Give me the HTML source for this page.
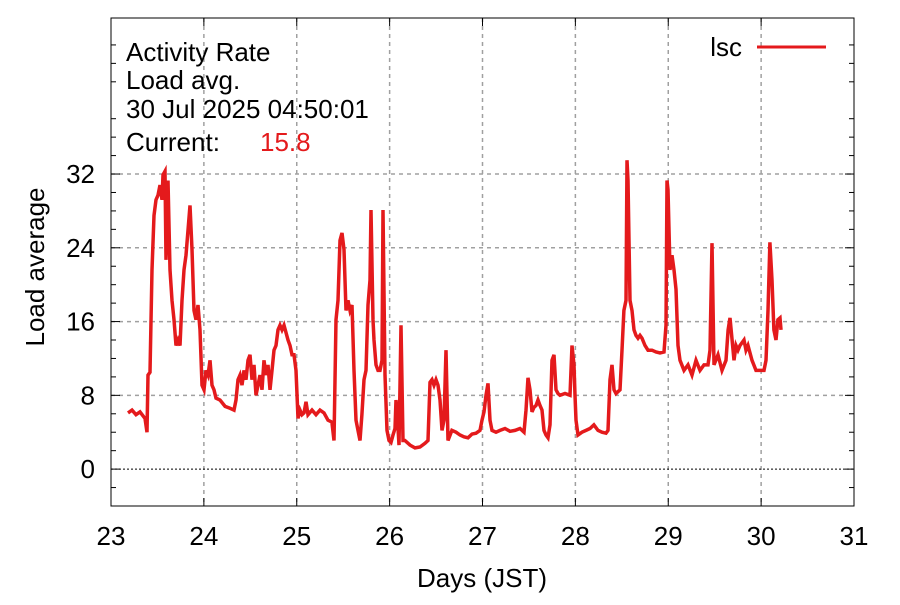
<!DOCTYPE html>
<html><head><meta charset="utf-8"><style>
body{margin:0;background:#fff}
svg text{font-family:"Liberation Sans",sans-serif;font-size:26px;fill:#000}
</style></head><body>
<svg id="chart" width="900" height="600" viewBox="0 0 900 600" xmlns="http://www.w3.org/2000/svg">
<g id="grid"></g>
<g id="axes"></g>
<g id="series"></g>
<text x="126" y="61">Activity Rate</text>
<text x="126" y="89">Load avg.</text>
<text x="126" y="118">30 Jul 2025 04:50:01</text>
<text x="126" y="151">Current:</text>
<text x="260" y="151" style="fill:#e41a1c">15.8</text>
<g>
<text x="742" y="56" text-anchor="end">lsc</text>
<line x1="757" y1="47" x2="826" y2="47" stroke="#e41a1c" stroke-width="3"/>
</g>
<text x="482" y="587" text-anchor="middle">Days (JST)</text>
<text transform="translate(44,267) rotate(-90)" text-anchor="middle">Load average</text>
</svg>
<script>
const xTicks=[23,24,25,26,27,28,29,30,31];
const yTicks=[0,8,16,24,32];
const days=[23.183,23.226,23.269,23.312,23.366,23.388,23.398,23.420,23.441,23.463,23.484,23.506,23.528,23.549,23.560,23.581,23.592,23.614,23.635,23.657,23.678,23.700,23.721,23.743,23.764,23.786,23.808,23.829,23.851,23.872,23.894,23.915,23.937,23.958,23.980,24.001,24.023,24.044,24.066,24.087,24.109,24.131,24.174,24.228,24.281,24.324,24.346,24.367,24.389,24.410,24.432,24.454,24.475,24.497,24.518,24.540,24.561,24.583,24.604,24.626,24.647,24.669,24.690,24.712,24.733,24.755,24.777,24.798,24.820,24.841,24.863,24.884,24.906,24.927,24.949,24.970,24.992,25.013,25.035,25.056,25.078,25.100,25.121,25.164,25.207,25.250,25.293,25.336,25.379,25.401,25.423,25.444,25.466,25.487,25.509,25.530,25.552,25.573,25.595,25.616,25.638,25.659,25.681,25.702,25.724,25.746,25.767,25.789,25.799,25.821,25.832,25.853,25.875,25.896,25.918,25.929,25.950,25.972,25.993,26.015,26.036,26.058,26.069,26.079,26.101,26.122,26.144,26.165,26.219,26.273,26.327,26.381,26.413,26.435,26.456,26.478,26.499,26.521,26.542,26.564,26.585,26.607,26.628,26.671,26.715,26.758,26.801,26.844,26.887,26.930,26.973,26.995,27.016,27.038,27.059,27.081,27.102,27.145,27.188,27.242,27.296,27.350,27.404,27.447,27.468,27.490,27.511,27.533,27.555,27.576,27.598,27.619,27.641,27.662,27.684,27.705,27.727,27.748,27.770,27.791,27.813,27.834,27.888,27.942,27.964,27.985,27.996,28.007,28.028,28.071,28.114,28.157,28.200,28.244,28.287,28.330,28.351,28.373,28.394,28.416,28.437,28.480,28.502,28.523,28.545,28.556,28.567,28.588,28.610,28.631,28.653,28.674,28.696,28.717,28.750,28.782,28.825,28.868,28.911,28.954,28.976,28.987,28.997,29.019,29.040,29.062,29.083,29.105,29.126,29.170,29.213,29.256,29.299,29.342,29.385,29.428,29.450,29.471,29.493,29.536,29.579,29.622,29.644,29.665,29.687,29.708,29.730,29.751,29.773,29.816,29.837,29.859,29.902,29.945,29.988,30.031,30.052,30.074,30.095,30.117,30.138,30.160,30.181,30.203,30.214];
const loads=[6.1,6.4,5.9,6.2,5.5,4.0,10.2,10.5,21.6,27.5,29.2,29.7,30.8,29.2,31.9,32.3,22.7,31.3,21.6,18.3,16.2,13.4,14.0,13.4,18.3,21.6,23.2,25.9,28.6,23.8,17.2,16.2,17.8,15.1,9.1,8.6,10.7,10.2,11.8,9.1,8.6,7.7,7.5,6.8,6.6,6.4,7.5,9.7,10.2,9.1,10.7,9.7,11.8,12.4,9.7,11.3,8.0,9.1,10.2,8.6,11.8,10.2,11.3,8.6,10.7,12.9,13.4,15.1,15.6,15.1,15.6,14.8,14.0,13.4,12.4,12.4,10.7,5.5,6.4,5.9,6.1,7.3,5.9,6.4,5.9,6.4,6.1,5.3,5.1,3.1,16.2,18.3,24.8,25.6,23.8,17.2,18.3,17.2,17.8,10.7,5.3,4.2,3.1,5.9,9.7,10.7,17.8,20.5,28.1,16.2,14.0,11.3,10.7,10.7,11.8,28.1,10.2,4.2,3.1,2.9,3.7,4.4,7.5,6.4,2.6,15.6,3.1,3.1,2.6,2.3,2.4,2.8,3.1,9.4,9.7,9.1,9.7,9.1,7.5,4.2,5.3,12.9,3.1,4.2,4.0,3.7,3.5,3.4,3.8,3.9,4.2,5.3,6.2,8.0,9.3,5.3,4.2,4.0,4.2,4.4,4.1,4.2,4.4,4.0,6.4,9.9,8.6,6.2,6.7,6.9,7.5,6.9,6.4,4.2,3.7,3.4,4.8,11.8,12.4,8.6,8.2,8.0,8.2,8.0,13.4,11.3,8.0,5.3,3.7,4.0,4.2,4.4,4.8,4.2,4.0,3.9,4.2,9.7,11.3,8.6,8.2,8.6,12.9,17.2,18.3,33.5,31.3,18.3,17.2,15.1,14.5,14.2,14.5,14.2,13.4,12.9,12.9,12.7,12.6,12.7,15.6,31.3,30.3,21.6,23.2,21.6,19.5,13.4,11.8,10.7,11.3,10.2,11.8,10.7,11.3,11.3,12.9,24.5,11.3,12.4,10.7,11.8,15.1,16.4,14.0,11.8,13.4,12.9,13.4,14.0,12.9,13.4,11.8,10.7,10.7,10.7,11.8,17.2,24.6,20.5,15.1,14.0,16.2,16.4,15.1];
const L=111,R=854,T=18,B=506,X0=23,X1=31,Y0=-4,Y1=48.92;
const sx=d=>L+(d-X0)/(X1-X0)*(R-L);
const sy=v=>B-(v-Y0)/(Y1-Y0)*(B-T);
const NS='http://www.w3.org/2000/svg';
function mk(p,t,a){const e=document.createElementNS(NS,t);for(const k in a)e.setAttribute(k,a[k]);p.appendChild(e);return e;}
const grid=document.getElementById('grid'),axes=document.getElementById('axes'),ser=document.getElementById('series');
xTicks.forEach(t=>{const x=sx(t);
 if(t>X0&&t<X1){const g=mk(grid,'line',{x1:x,y1:T,x2:x,y2:B,stroke:'#a0a0a0','stroke-width':1.5,'stroke-dasharray':'4,4'});
 
 }
 mk(axes,'line',{x1:x,y1:B,x2:x,y2:B-8,stroke:'#000'});mk(axes,'line',{x1:x,y1:T,x2:x,y2:T+8,stroke:'#000'});
 const tx=mk(axes,'text',{x:x,y:545,'text-anchor':'middle'});tx.textContent=t;
 
 
});
yTicks.forEach(t=>{const y=sy(t);
 const g=mk(grid,'line',{x1:L,y1:y,x2:R,y2:y,stroke:t===0?'#000':'#a0a0a0','stroke-width':t===0?1:1.5,'stroke-dasharray':t===0?'2,2':'4,4'});
 
 
 mk(axes,'line',{x1:L,y1:y,x2:L+9,y2:y,stroke:'#000'});mk(axes,'line',{x1:R,y1:y,x2:R-9,y2:y,stroke:'#000'});
 const tx=mk(axes,'text',{x:95,y:y+9,'text-anchor':'end'});tx.textContent=t;
 
 
});
for(let v=-4;v<=48;v+=2){if(v%8===0)continue;const y=sy(v);
 mk(axes,'line',{x1:L,y1:y,x2:L+5,y2:y,stroke:'#000'});mk(axes,'line',{x1:R,y1:y,x2:R-5,y2:y,stroke:'#000'});}
const fr=mk(axes,'rect',{x:L,y:T,width:R-L,height:B-T,fill:'none',stroke:'#000','stroke-width':1});


const pts=days.map((d,i)=>sx(d).toFixed(1)+','+sy(loads[i]).toFixed(1)).join(' ');
const pl=mk(ser,'polyline',{points:pts,fill:'none',stroke:'#e41a1c','stroke-width':3.5,'stroke-linejoin':'miter'});


</script>
</body></html>
